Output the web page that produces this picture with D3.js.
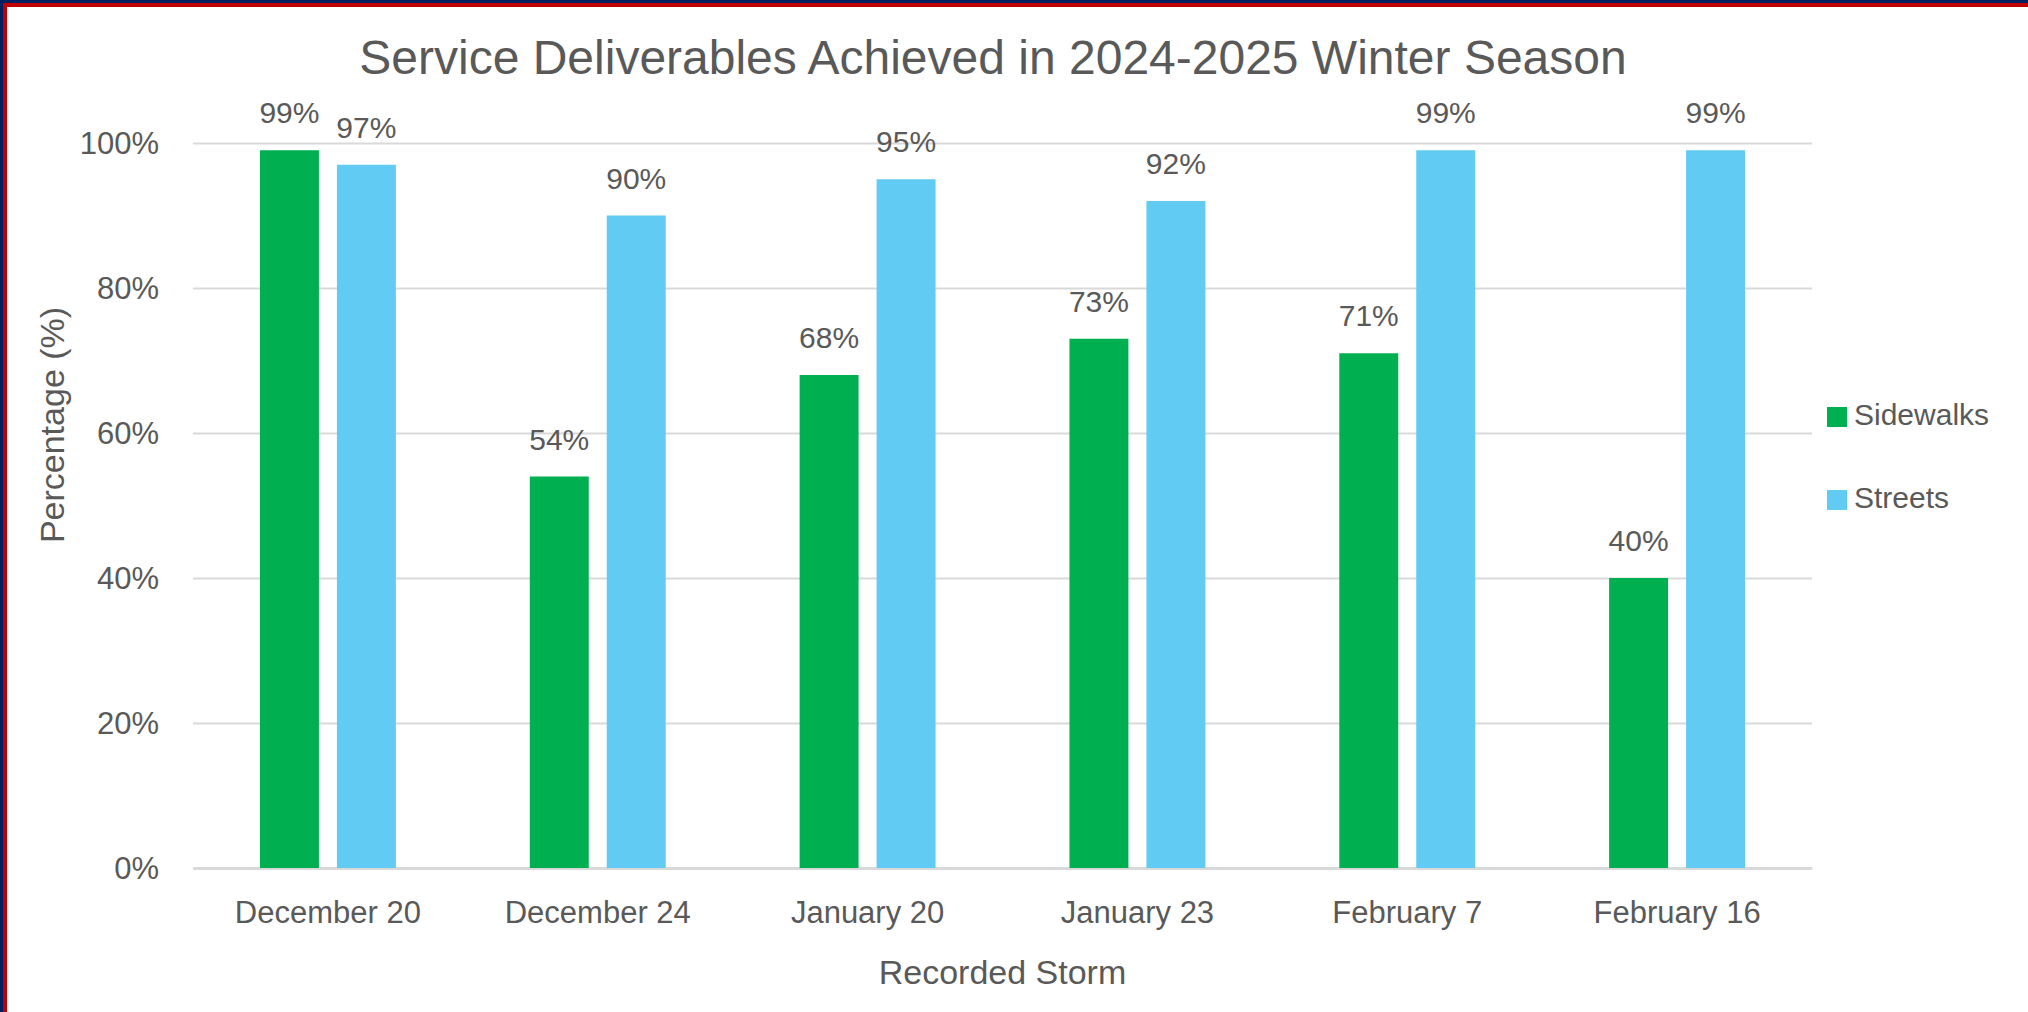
<!DOCTYPE html>
<html>
<head>
<meta charset="utf-8">
<script src="https://cdn.jsdelivr.net/npm/d3@7"></script>
<style>
  body { margin: 0; background: #fff; }
  text { font-family: "Liberation Sans", Arial, sans-serif; fill: #595959; }
</style>
</head>
<body>
<div id="chart"></div>
<script>
const storms = ["December 20", "December 24", "January 20", "January 23", "February 7", "February 16"];
const seriesNames = ["Sidewalks", "Streets"];
const sidewalks = [99, 54, 68, 73, 71, 40];
const streets = [97, 90, 95, 92, 99, 99];
const yTicks = [0, 20, 40, 60, 80, 100];
const seriesColors = ["#00B050", "#61CBF3"];

const width = 2028;
const height = 1012;
const plot = { left: 193, right: 1812, top: 143, bottom: 868 };

const svg = d3.select("#chart")
  .append("svg")
  .attr("width", width)
  .attr("height", height);

svg.append("rect")
  .attr("width", width)
  .attr("height", height)
  .attr("fill", "#fff");

// frame stripes at top and left edge
svg.append("rect").attr("x", 0).attr("y", 0).attr("width", width).attr("height", 7).attr("fill", "#C00000");
svg.append("rect").attr("x", 0).attr("y", 0).attr("width", 7).attr("height", height).attr("fill", "#C00000");
svg.append("rect").attr("x", 0).attr("y", 0).attr("width", width).attr("height", 3).attr("fill", "#002060");
svg.append("rect").attr("x", 0).attr("y", 0).attr("width", 3).attr("height", height).attr("fill", "#002060");

const x0 = d3.scaleBand()
  .domain(storms)
  .range([plot.left, plot.right]);

const x1 = d3.scaleBand()
  .domain(seriesNames)
  .range([0, x0.bandwidth()])
  .paddingInner(0.234)
  .paddingOuter(0.87);

const y = d3.scaleLinear()
  .domain([0, 100])
  .range([plot.bottom, plot.top]);

const yAxis = svg.append("g")
  .attr("transform", `translate(${plot.left},0)`)
  .call(d3.axisLeft(y).tickValues(yTicks).tickSize(-(plot.right - plot.left)).tickFormat(d => d + "%"));

yAxis.select(".domain").remove();
yAxis.selectAll(".tick line")
  .attr("stroke", "#D9D9D9")
  .attr("stroke-width", 2);
yAxis.selectAll(".tick text")
  .attr("x", -34)
  .attr("dy", "0.35em")
  .style("font-size", "31px")
  .style("font-family", "Liberation Sans, Arial, sans-serif")
  .attr("fill", "#595959");

const xAxis = svg.append("g")
  .attr("transform", `translate(0,${plot.bottom})`)
  .call(d3.axisBottom(x0).tickSize(0));

xAxis.select(".domain")
  .attr("stroke", "#D9D9D9")
  .attr("stroke-width", 3);
xAxis.selectAll(".tick text")
  .attr("y", 55)
  .attr("dy", 0)
  .style("font-size", "31px")
  .style("font-family", "Liberation Sans, Arial, sans-serif")
  .attr("fill", "#595959");

const rows = storms.map((storm, i) => ({
  storm,
  values: [
    { series: seriesNames[0], value: sidewalks[i], color: seriesColors[0] },
    { series: seriesNames[1], value: streets[i], color: seriesColors[1] }
  ]
}));

const groups = svg.append("g")
  .selectAll("g")
  .data(rows)
  .enter()
  .append("g")
  .attr("transform", d => `translate(${x0(d.storm)},0)`);

groups.selectAll("rect")
  .data(d => d.values)
  .enter()
  .append("rect")
  .attr("x", d => x1(d.series))
  .attr("y", d => y(d.value))
  .attr("width", x1.bandwidth())
  .attr("height", d => y(0) - y(d.value))
  .attr("fill", d => d.color);

groups.selectAll("text")
  .data(d => d.values)
  .enter()
  .append("text")
  .attr("x", d => x1(d.series) + x1.bandwidth() / 2)
  .attr("y", d => y(d.value) - 27)
  .attr("text-anchor", "middle")
  .style("font-size", "30px")
  .text(d => d.value + "%");

svg.append("text")
  .attr("x", 993)
  .attr("y", 74)
  .attr("text-anchor", "middle")
  .style("font-size", "48px")
  .text("Service Deliverables Achieved in 2024-2025 Winter Season");

svg.append("text")
  .attr("x", (plot.left + plot.right) / 2)
  .attr("y", 984)
  .attr("text-anchor", "middle")
  .style("font-size", "34px")
  .text("Recorded Storm");

svg.append("text")
  .attr("transform", "translate(64,425) rotate(-90)")
  .attr("text-anchor", "middle")
  .style("font-size", "34px")
  .text("Percentage (%)");

const legend = svg.append("g")
  .selectAll("g")
  .data(seriesNames)
  .enter()
  .append("g")
  .attr("transform", (d, i) => `translate(1827,${407 + i * 83})`);

legend.append("rect")
  .attr("width", 20)
  .attr("height", 20)
  .attr("fill", (d, i) => seriesColors[i]);

legend.append("text")
  .attr("x", 27)
  .attr("y", 18)
  .style("font-size", "30px")
  .text(d => d);
</script>
</body>
</html>
